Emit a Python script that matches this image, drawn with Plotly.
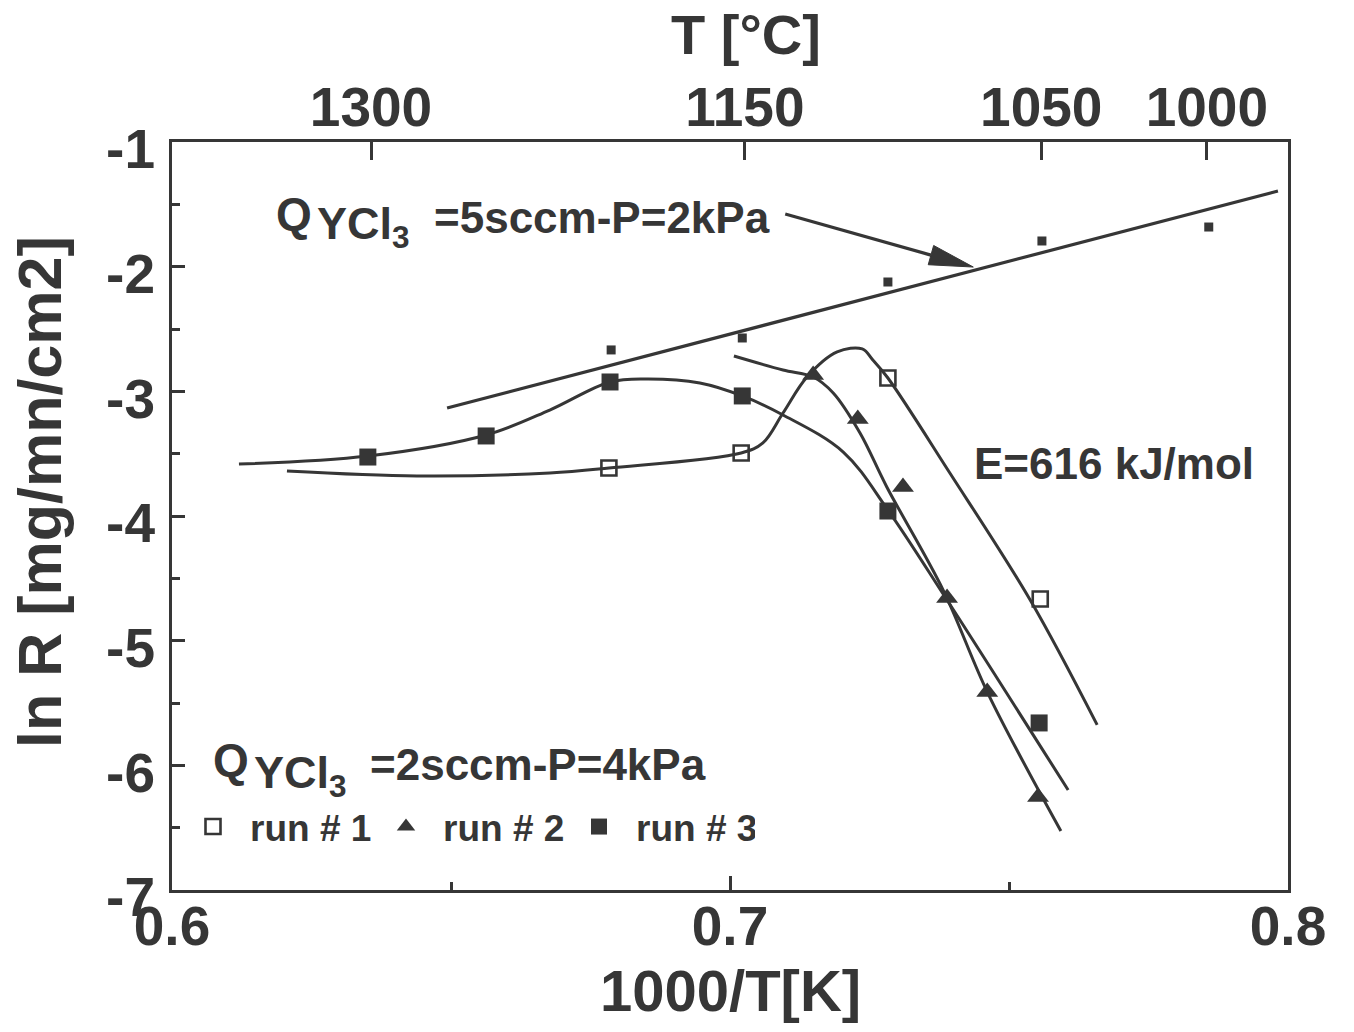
import plotly.graph_objects as go

# ---------------- data: ln R versus 1000/T ----------------
# Q_YCl3 = 5 sccm, P = 2 kPa (small filled squares + straight fit)
x_5sccm = [0.6787, 0.7022, 0.7283, 0.7559, 0.7858]
y_5sccm = [-2.668, -2.572, -2.123, -1.794, -1.682]
fit5_x = [0.6493, 0.7982]
fit5_y = [-3.134, -1.393]

# Q_YCl3 = 2 sccm, P = 4 kPa
run1_x = [0.6783, 0.7020, 0.7283, 0.7556]
run1_y = [-3.615, -3.495, -2.893, -4.666]
run2_x = [0.7149, 0.7229, 0.7310, 0.7389, 0.7461, 0.7552]
run2_y = [-2.869, -3.222, -3.767, -4.658, -5.412, -6.254]
run3_x = [0.6351, 0.6563, 0.6785, 0.7022, 0.7283, 0.7554]
run3_y = [-3.527, -3.358, -2.925, -3.037, -3.960, -5.660]

# hand-drawn guide curves through each run
curve1_x = [0.6206, 0.6439, 0.6677, 0.6783, 0.7020, 0.7059, 0.7095, 0.7138,
            0.7192, 0.7237, 0.7256, 0.7283, 0.7394, 0.7538, 0.7658]
curve1_y = [-3.639, -3.679, -3.655, -3.615, -3.495, -3.414, -3.174, -2.885,
            -2.684, -2.660, -2.749, -2.893, -3.655, -4.674, -5.676]
curve2_x = [0.7007, 0.7095, 0.7149, 0.7185, 0.7233, 0.7281, 0.7382, 0.7462, 0.7593]
curve2_y = [-2.717, -2.829, -2.885, -3.013, -3.334, -3.767, -4.594, -5.420, -6.527]
curve3_x = [0.6120, 0.6351, 0.6563, 0.6677, 0.6785, 0.6851, 0.6946, 0.7022,
            0.7095, 0.7203, 0.7283, 0.7389, 0.7606]
curve3_y = [-3.583, -3.519, -3.350, -3.150, -2.925, -2.901, -2.933, -3.037,
            -3.190, -3.487, -3.952, -4.674, -6.198]

# top axis: temperature in degrees Celsius
T_ticks = [1300, 1150, 1050, 1000]

# arrow from the 5 sccm label to its fitted line
arrow_tail = (0.7099, -1.578)
arrow_tip = (0.7436, -2.003)

# ---------------- styling ----------------
INK = "#363636"
FAM = "Liberation Sans, Arial, Helvetica, sans-serif"
W, H = 1354, 1032
L, R, T, B = 172, 66, 142, 142
X_RANGE = [0.6, 0.8]
Y_RANGE = [-7, -1]
PW, PH = W - L - R, H - T - B


def font(size, bold=True):
    return dict(family=FAM, size=size, color=INK, weight="bold" if bold else "normal")


def px_x(p):
    return (p - L) / PW


def px_y(p):
    return (H - B - p) / PH


fig = go.Figure()

# straight fit for the 5 sccm series
fig.add_trace(go.Scatter(x=fit5_x, y=fit5_y, mode="lines",
                         line=dict(color=INK, width=3.2), showlegend=False, hoverinfo="skip"))
fig.add_trace(go.Scatter(x=x_5sccm, y=y_5sccm, mode="markers",
                         marker=dict(symbol="square", size=9, color=INK),
                         showlegend=False))

# guide curves
for cx, cy in [(curve1_x, curve1_y), (curve2_x, curve2_y), (curve3_x, curve3_y)]:
    fig.add_trace(go.Scatter(x=cx, y=cy, mode="lines",
                             line=dict(color=INK, width=3, shape="spline", smoothing=1.0),
                             showlegend=False, hoverinfo="skip"))

# measured runs
fig.add_trace(go.Scatter(x=run1_x, y=run1_y, mode="markers", name="run # 1",
                         marker=dict(symbol="square-open", size=15, color=INK,
                                     line=dict(width=2.6, color=INK))))
fig.add_trace(go.Scatter(x=run2_x, y=run2_y, mode="markers", name="run # 2",
                         marker=dict(symbol="triangle-up", size=19, color=INK)))
fig.add_trace(go.Scatter(x=run3_x, y=run3_y, mode="markers", name="run # 3",
                         marker=dict(symbol="square", size=17, color=INK)))

# dummy trace to activate the top temperature axis
fig.add_trace(go.Scatter(x=[None], y=[None], xaxis="x2", showlegend=False))

top_vals = [1000.0 / (t + 273.15) for t in T_ticks]

axis_common = dict(showline=True, linewidth=3, linecolor=INK, ticks="inside",
                   tickcolor=INK, tickwidth=3, showgrid=False, zeroline=False,
                   tickfont=font(55))

fig.update_layout(
    width=W, height=H, autosize=False,
    margin=dict(l=L, r=R, t=T, b=B, pad=0),
    paper_bgcolor="white", plot_bgcolor="white",
    xaxis=dict(range=X_RANGE, tickvals=[0.6, 0.7, 0.8], ticktext=["0.6", "0.7", "0.8"],
               ticklen=14, ticklabelstandoff=-14,
               minor=dict(tickvals=[0.65, 0.75], ticklen=8, tickwidth=2.5,
                          tickcolor=INK, ticks="inside"),
               **axis_common),
    xaxis2=dict(range=X_RANGE, overlaying="x", side="top", tickvals=top_vals,
                ticktext=[str(t) for t in T_ticks], ticklen=18, ticklabelstandoff=-9,
                **axis_common),
    yaxis=dict(range=Y_RANGE, tickvals=[-1, -2, -3, -4, -5, -6, -7],
               ticktext=["-1", "-2", "-3", "-4", "-5", "-6", "-7"],
               ticklen=13, mirror=True, ticklabelstandoff=3, ticklabelshift=7,
               minor=dict(tickvals=[-1.5, -2.5, -3.5, -4.5, -5.5, -6.5], ticklen=8,
                          tickwidth=2.5, tickcolor=INK, ticks="inside"),
               **axis_common),
    legend=dict(orientation="h", x=px_x(176), y=px_y(827), xanchor="left", yanchor="middle",
                font=font(37), bgcolor="rgba(0,0,0,0)", itemsizing="trace",
                itemwidth=64, entrywidth=114, tracegroupgap=0),
)

annotations = [
    # axis titles
    dict(text="T [°C]", x=px_x(746), y=px_y(35), font=font(56)),
    dict(text="1000/T[K]", x=px_x(730), y=px_y(990), font=font(58)),
    dict(text="ln R [mg/mn/cm2]", x=px_x(40), y=px_y(492), font=font(61), textangle=-90),
    # 5 sccm label
    dict(text="Q", x=px_x(274), y=px_y(214), xanchor="left", font=font(46)),
    dict(text="YCl<sub>3</sub>", x=px_x(315), y=px_y(226), xanchor="left", font=font(45)),
    dict(text="=5sccm-P=2kPa", x=px_x(432), y=px_y(218), xanchor="left", font=font(44)),
    # 2 sccm label
    dict(text="Q", x=px_x(211), y=px_y(760), xanchor="left", font=font(46)),
    dict(text="YCl<sub>3</sub>", x=px_x(252), y=px_y(775), xanchor="left", font=font(45)),
    dict(text="=2sccm-P=4kPa", x=px_x(368), y=px_y(764), xanchor="left", font=font(44)),
    # activation energy
    dict(text="E=616 kJ/mol", x=px_x(972), y=px_y(463), xanchor="left", font=font(44)),
]
for a in annotations:
    a.setdefault("xanchor", "center")
    a.update(xref="paper", yref="paper", yanchor="middle", showarrow=False)
fig.update_layout(annotations=annotations)

# arrow: shaft plus a long slim filled head, built in pixel space
sx = PW / (X_RANGE[1] - X_RANGE[0])
sy = PH / (Y_RANGE[1] - Y_RANGE[0])
dx = (arrow_tip[0] - arrow_tail[0]) * sx
dy = (arrow_tip[1] - arrow_tail[1]) * sy
ln = (dx ** 2 + dy ** 2) ** 0.5
ux, uy = dx / ln, dy / ln
head_len, head_half = 44.0, 10.0
bx = arrow_tip[0] - head_len * ux / sx
by = arrow_tip[1] - head_len * uy / sy
c1 = (bx - head_half * uy / sx, by + head_half * ux / sy)
c2 = (bx + head_half * uy / sx, by - head_half * ux / sy)
fig.add_shape(type="line", xref="x", yref="y", x0=arrow_tail[0], y0=arrow_tail[1],
              x1=bx, y1=by, line=dict(color=INK, width=3.2))
fig.add_shape(type="path", xref="x", yref="y",
              path=f"M{arrow_tip[0]},{arrow_tip[1]} L{c1[0]},{c1[1]} L{c2[0]},{c2[1]} Z",
              fillcolor=INK, line=dict(color=INK, width=1))

fig.write_html("out.html")
